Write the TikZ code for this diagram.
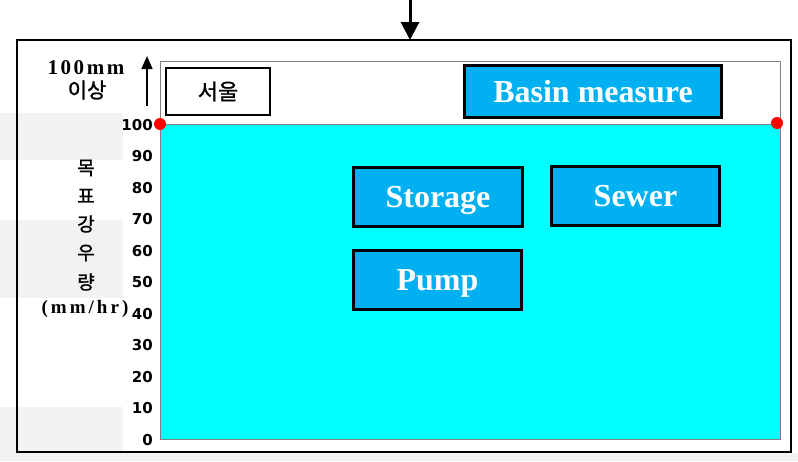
\documentclass[tikz,border=0pt]{standalone}
\usepackage{fontspec}
\setmainfont{Liberation Serif}
\newfontfamily\kr{Noto Sans CJK KR}[FakeBold=1.2]
\newfontfamily\spaced{Liberation Serif}[LetterSpace=12]
\newfontfamily\spacedu{Liberation Serif}[LetterSpace=16]
\newfontfamily\numfont{DejaVu Sans}
\usetikzlibrary{arrows.meta}
\definecolor{boxblue}{HTML}{00B0F0}
\definecolor{aqua}{HTML}{00FFFF}
\definecolor{bandgray}{HTML}{F2F2F2}
\tikzset{
  measure/.style={draw=black, line width=2.2pt, fill=boxblue, text=white,
    font=\fontsize{32}{32}\selectfont\bfseries, inner sep=0pt,
    text height=21pt, text depth=0pt},
  cityb/.style={draw=black, line width=1.5pt, fill=white, inner sep=0pt,
    font=\kr\fontsize{22}{22}\selectfont},
  tick/.style={anchor=east, inner sep=0pt, font=\numfont\bfseries\fontsize{15}{15}\selectfont},
  ylab/.style={inner sep=0pt, font=\kr\fontsize{19}{19}\selectfont},
  reddot/.style={circle, fill=red, minimum size=12pt, inner sep=0pt},
}
\begin{document}
\begin{tikzpicture}[x=1pt,y=-1pt]
\useasboundingbox (0,0) rectangle (798,461);
% faint background bands
\fill[bandgray] (0,113) rectangle (123,160);
\fill[bandgray] (0,220) rectangle (123,298);
\fill[bandgray] (0,407) rectangle (123,461);
\fill[bandgray] (123,453) rectangle (798,461);
% outer frame
\draw[line width=1.6pt] (17,40) rectangle (791,452);
% chart area
\draw[gray, line width=0.8pt, fill=white] (160,61) rectangle (780,439);
\draw[gray, line width=0.8pt, fill=aqua] (160,124) rectangle (780,439);
% top arrow
\coordinate (ta) at (410,0);
\coordinate (tb) at (410,40);
\draw[line width=3pt, -{Triangle[width=18pt,length=18pt]}] (ta) -- (tb);
% up arrow
\coordinate (ua) at (147,106);
\coordinate (ub) at (147,56);
\draw[line width=1.5pt, -{Triangle[width=11pt,length=13pt]}] (ua) -- (ub);
% labels
\node[inner sep=0pt, font=\spaced\bfseries\fontsize{21}{21}\selectfont] (mm100) at (86,68) {100mm};
\node[inner sep=0pt, font=\kr\fontsize{21}{21}\selectfont] (isang) at (87,90) {이상};
\node[ylab] (k1) at (86,168) {목};
\node[ylab] (k2) at (86,196) {표};
\node[ylab] (k3) at (86,224) {강};
\node[ylab] (k4) at (86,253) {우};
\node[ylab] (k5) at (86,282) {량};
\node[inner sep=0pt, font=\spacedu\bfseries\fontsize{19}{19}\selectfont] (unit) at (85,309) {(mm/hr)};
% ticks
\foreach \v [count=\i from 0] in {0,10,...,100}
  \node[tick] (t\i) at (153,{440-31.5*\i}) {\v};
% boxes
\node[cityb, minimum width=104pt, minimum height=47pt] (seoul) at (218,91.5) {서울};
\node[measure, minimum width=257pt, minimum height=52pt] (basin) at (593,91.5) {Basin measure};
\node[measure, minimum width=169pt, minimum height=59pt] (storage) at (438,197) {Storage};
\node[measure, minimum width=168pt, minimum height=59pt] (sewer) at (635.5,196) {Sewer};
\node[measure, minimum width=168pt, minimum height=59pt] (pump) at (437.5,280) {Pump};
% red dots
\node[reddot] (d1) at (160,124) {};
\node[reddot] (d2) at (777,123) {};
\end{tikzpicture}
\end{document}
